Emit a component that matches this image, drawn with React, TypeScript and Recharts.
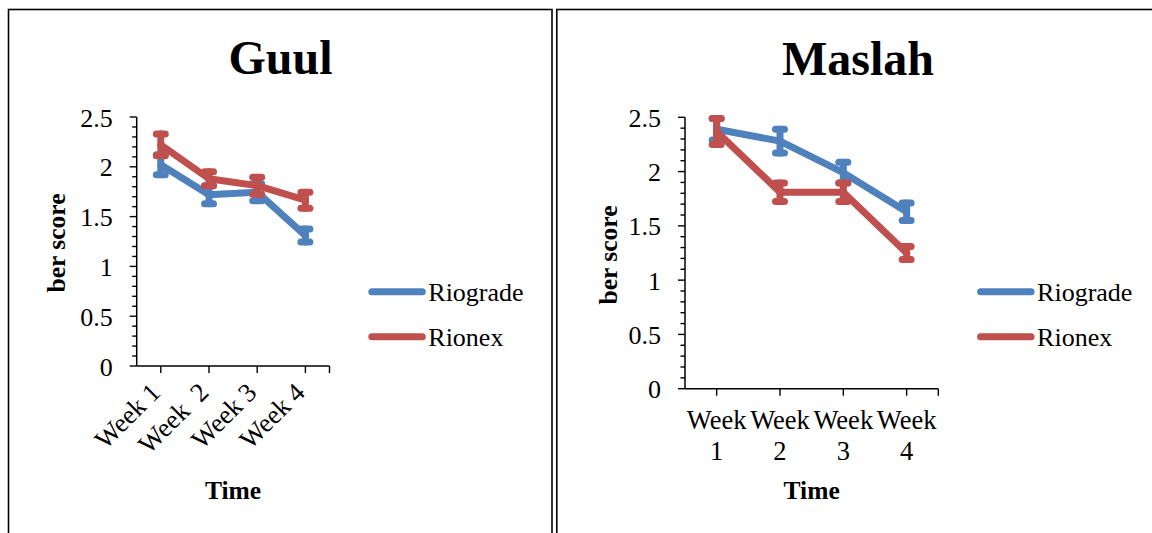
import React from 'react';
import { LineChart, Line, XAxis, YAxis, ErrorBar } from 'recharts';

// ---------- data ----------
const GUUL_CATEGORIES = ['Week 1', 'Week  2', 'Week 3', 'Week 4'];
const GUUL_RIOGRADE = [2.02, 1.72, 1.745, 1.31];
const GUUL_RIOGRADE_ERR = [0.1, 0.09, 0.085, 0.065];
const GUUL_RIONEX = [2.22, 1.88, 1.81, 1.665];
const GUUL_RIONEX_ERR = [0.11, 0.07, 0.085, 0.08];

const MASLAH_CATEGORIES = ['Week 1', 'Week 2', 'Week 3', 'Week 4'];
const MASLAH_RIOGRADE = [2.39, 2.28, 1.99, 1.63];
const MASLAH_RIOGRADE_ERR = [0.1, 0.11, 0.095, 0.08];
const MASLAH_RIONEX = [2.37, 1.81, 1.81, 1.25];
const MASLAH_RIONEX_ERR = [0.12, 0.085, 0.085, 0.06];

const SERIES_NAMES = ['Riograde', 'Rionex'];
const MAJOR_TICKS = [0, 0.5, 1, 1.5, 2, 2.5];
const ALL_Y_TICKS = [
  0, 0.1, 0.2, 0.3, 0.4, 0.5, 0.6, 0.7, 0.8, 0.9, 1, 1.1, 1.2, 1.3, 1.4, 1.5,
  1.6, 1.7, 1.8, 1.9, 2, 2.1, 2.2, 2.3, 2.4, 2.5,
];

const BLUE = '#4F81BD';
const RED = '#C0504D';
const FONT = "'Liberation Serif', 'Times New Roman', serif";

const buildRows = (cats: string[], a: number[], ae: number[], b: number[], be: number[]) =>
  cats.map((c, i) => ({ week: c, rio: a[i], rioErr: ae[i], rnx: b[i], rnxErr: be[i] }));

const guulData = buildRows(GUUL_CATEGORIES, GUUL_RIOGRADE, GUUL_RIOGRADE_ERR, GUUL_RIONEX, GUUL_RIONEX_ERR);
const maslahData = buildRows(MASLAH_CATEGORIES, MASLAH_RIOGRADE, MASLAH_RIOGRADE_ERR, MASLAH_RIONEX, MASLAH_RIONEX_ERR);

const TICK_SIZE = 7;
const TICK_MARGIN = 17;

const YTick = (props: any) => {
  const { x, y, payload } = props;
  const axisX = x + TICK_SIZE + TICK_MARGIN;
  const v = payload.value;
  const major = MAJOR_TICKS.some((m) => Math.abs(m - v) < 1e-6);
  return (
    <g>
      <line x1={axisX - (major ? 7 : 4.5)} x2={axisX} y1={y} y2={y} stroke="#000" strokeWidth={1.4} />
      {major && (
        <text x={x} y={y} dy={9.5} textAnchor="end" fontSize={26} fontFamily={FONT} fill="#000">
          {String(v)}
        </text>
      )}
    </g>
  );
};

const RotatedXTick = (props: any) => {
  const { x, y, payload } = props;
  const tx = x + 1;
  const ty = y + 21;
  return (
    <text
      x={tx}
      y={ty}
      textAnchor="end"
      fontSize={26.5}
      fontFamily={FONT}
      fill="#000"
      transform={`rotate(-45, ${tx}, ${ty})`}
      style={{ whiteSpace: 'pre' }}
    >
      {payload.value}
    </text>
  );
};

const TwoLineXTick = (props: any) => {
  const { x, y, payload } = props;
  const parts = String(payload.value).split(' ');
  return (
    <text textAnchor="middle" fontSize={26.5} fontFamily={FONT} fill="#000">
      <tspan x={x} y={y + 33.7}>{parts[0]}</tspan>
      <tspan x={x} y={y + 64}>{parts[1]}</tspan>
    </text>
  );
};

type PanelProps = {
  data: any[];
  left: number;
  width: number;
  margin: { top: number; right: number; bottom: number; left: number };
  xTick: any;
  halfBand: number;
};

const Panel = ({ data, left, width, margin, xTick, halfBand }: PanelProps) => (
  <div style={{ position: 'absolute', left, top: 0, width, height: 533 }}>
    <LineChart width={width} height={533} data={data} margin={margin}>
      <XAxis
        dataKey="week"
        type="category"
        height={60}
        interval={0}
        padding={{ left: halfBand, right: halfBand }}
        tickSize={TICK_SIZE}
        tickMargin={0}
        axisLine={{ stroke: '#000', strokeWidth: 1.5 }}
        tickLine={{ stroke: '#000', strokeWidth: 1.4 }}
        tick={xTick}
      />
      <YAxis
        type="number"
        domain={[0, 2.5]}
        ticks={ALL_Y_TICKS}
        interval={0}
        width={60}
        tickSize={TICK_SIZE}
        tickMargin={TICK_MARGIN}
        axisLine={{ stroke: '#000', strokeWidth: 1.5 }}
        tickLine={false}
        tick={(p: any) => <YTick {...p} />}
      />
      <Line
        dataKey="rio"
        name={SERIES_NAMES[0]}
        stroke={BLUE}
        strokeWidth={7}
        strokeLinejoin="round"
        strokeLinecap="round"
        dot={false}
        activeDot={false}
        isAnimationActive={false}
      >
        <ErrorBar dataKey="rioErr" direction="y" width={4.5} stroke={BLUE} strokeWidth={7} strokeLinecap="round" isAnimationActive={false} />
      </Line>
      <Line
        dataKey="rnx"
        name={SERIES_NAMES[1]}
        stroke={RED}
        strokeWidth={7}
        strokeLinejoin="round"
        strokeLinecap="round"
        dot={false}
        activeDot={false}
        isAnimationActive={false}
      >
        <ErrorBar dataKey="rnxErr" direction="y" width={4.5} stroke={RED} strokeWidth={7} strokeLinecap="round" isAnimationActive={false} />
      </Line>
    </LineChart>
  </div>
);

// layout
const L_PLOT = { x0: 136.7, x1: 329.5, y0: 117, y1: 366 };
const R_LEFT = 556;
const R_PLOT = { x0: 685, x1: 938.3, y0: 117.3, y1: 388.7 };

const Legend = ({ plotRight }: { plotRight: number }) => {
  const lx = plotRight + 38.8;
  const rows = [
    { name: SERIES_NAMES[0], color: BLUE, y: 291.7 },
    { name: SERIES_NAMES[1], color: RED, y: 336.7 },
  ];
  return (
    <g>
      {rows.map((r) => (
        <g key={r.name}>
          <line x1={lx + 3.5} x2={lx + 54} y1={r.y} y2={r.y} stroke={r.color} strokeWidth={7} strokeLinecap="round" />
          <text x={lx + 60} y={r.y + 9} fontSize={26} fontFamily={FONT} fill="#000">
            {r.name}
          </text>
        </g>
      ))}
    </g>
  );
};

export default function App() {
  return (
    <div style={{ position: 'absolute', left: 0, top: 0, width: 1152, height: 533, background: '#fff', overflow: 'hidden' }}>
      <svg width={1152} height={533} style={{ position: 'absolute', left: 0, top: 0 }}>
        <rect x={8.5} y={9.5} width={543.5} height={600} fill="none" stroke="#000" strokeWidth={1.6} />
        <rect x={556.8} y={9.5} width={700} height={600} fill="none" stroke="#000" strokeWidth={1.6} />
        <text x={280.5} y={74} textAnchor="middle" fontSize={48} fontWeight="bold" fontFamily={FONT}>Guul</text>
        <text x={858} y={75} textAnchor="middle" fontSize={48} fontWeight="bold" fontFamily={FONT}>Maslah</text>
        <text x={(L_PLOT.x0 + L_PLOT.x1) / 2} y={499.3} textAnchor="middle" fontSize={25.5} fontWeight="bold" fontFamily={FONT}>Time</text>
        <text x={(R_PLOT.x0 + R_PLOT.x1) / 2} y={499} textAnchor="middle" fontSize={25.5} fontWeight="bold" fontFamily={FONT}>Time</text>
        <text x={64.8} y={243} textAnchor="middle" fontSize={25.5} fontWeight="bold" fontFamily={FONT} transform="rotate(-90, 64.8, 243)">ber score</text>
        <text x={617} y={255} textAnchor="middle" fontSize={25.5} fontWeight="bold" fontFamily={FONT} transform="rotate(-90, 617, 255)">ber score</text>
        <Legend plotRight={L_PLOT.x1} />
        <Legend plotRight={R_PLOT.x1} />
      </svg>
      <Panel
        data={guulData}
        left={0}
        width={552}
        margin={{ top: L_PLOT.y0, right: 552 - L_PLOT.x1, bottom: 533 - L_PLOT.y1 - 60, left: L_PLOT.x0 - 60 }}
        xTick={(p: any) => <RotatedXTick {...p} />}
        halfBand={(L_PLOT.x1 - L_PLOT.x0) / GUUL_CATEGORIES.length / 2}
      />
      <Panel
        data={maslahData}
        left={R_LEFT}
        width={596}
        margin={{ top: R_PLOT.y0, right: R_LEFT + 596 - R_PLOT.x1, bottom: 533 - R_PLOT.y1 - 60, left: R_PLOT.x0 - R_LEFT - 60 }}
        xTick={(p: any) => <TwoLineXTick {...p} />}
        halfBand={(R_PLOT.x1 - R_PLOT.x0) / MASLAH_CATEGORIES.length / 2}
      />
      <svg width={1152} height={533} style={{ position: 'absolute', left: 0, top: 0, pointerEvents: 'none' }}>
        <line x1={L_PLOT.x1} x2={L_PLOT.x1} y1={L_PLOT.y1} y2={L_PLOT.y1 + 7} stroke="#000" strokeWidth={1.4} />
        <line x1={R_PLOT.x1} x2={R_PLOT.x1} y1={R_PLOT.y1} y2={R_PLOT.y1 + 7} stroke="#000" strokeWidth={1.4} />
      </svg>
    </div>
  );
}
